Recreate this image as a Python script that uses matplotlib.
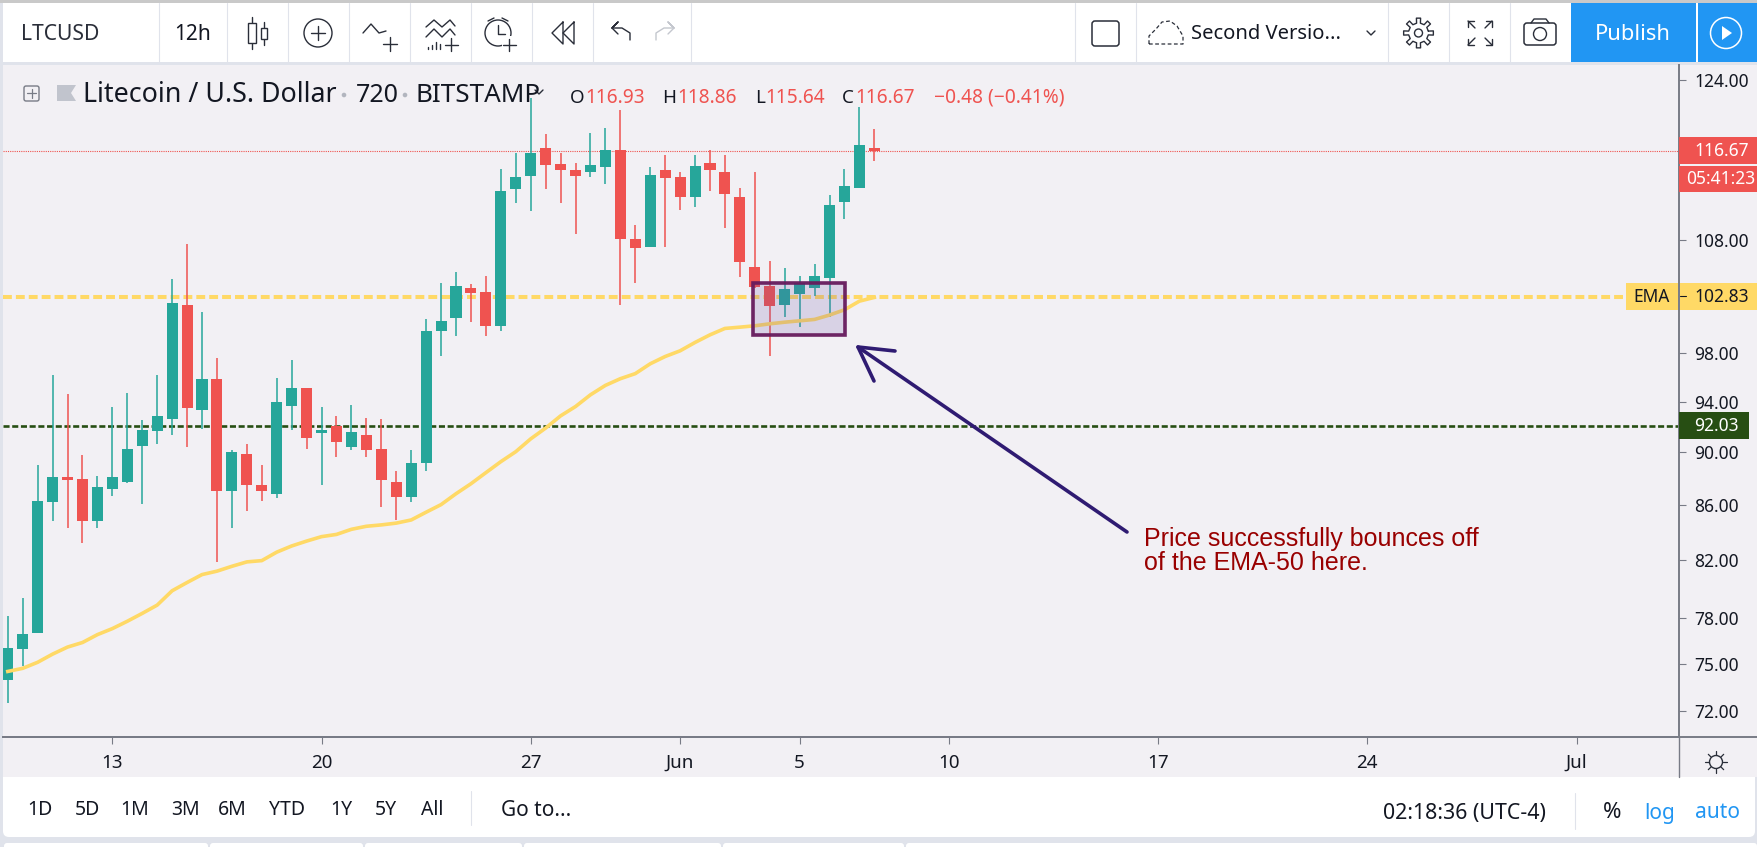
import math
import matplotlib
matplotlib.use("Agg")
import matplotlib.pyplot as plt
from matplotlib.patches import Rectangle, Circle, FancyBboxPatch
from matplotlib.ticker import NullLocator

# candle values (12h bars, starting around 9 May)
opens = [73.96, 75.97, 77.00, 86.23, 88.07, 87.97, 84.85, 87.17, 87.75, 90.52,
         91.64, 92.60, 102.16, 93.37, 95.87, 87.07, 89.88, 87.49, 86.81, 93.62,
         95.13, 91.54, 92.08, 90.38, 91.33, 90.25, 87.72, 86.58, 89.18, 99.86,
         100.99, 103.68, 103.30, 100.29, 112.90, 114.13, 116.90, 115.35, 114.73, 114.60,
         115.06, 116.70, 108.12, 107.43, 114.73, 114.10, 112.16, 115.48, 114.56, 112.13,
         105.54, 103.86, 102.17, 103.15, 103.71, 104.56, 111.67, 113.03, 116.93]
highs = [78.13, 79.40, 89.01, 96.16, 94.63, 89.78, 88.20, 93.58, 94.74, 92.50,
         96.16, 104.51, 107.68, 101.58, 97.60, 90.15, 90.62, 89.01, 95.90, 97.47,
         95.13, 93.58, 92.85, 93.72, 92.71, 92.60, 88.57, 90.15, 100.95, 104.12,
         105.11, 104.01, 104.71, 114.89, 116.45, 122.05, 118.33, 116.45, 115.48, 118.50,
         118.95, 120.80, 109.46, 115.02, 116.28, 114.56, 116.28, 116.74, 116.28, 113.03,
         114.56, 106.12, 105.43, 104.71, 105.82, 112.29, 114.89, 121.20, 118.86]
lows = [72.53, 74.86, 77.00, 84.81, 84.28, 83.26, 84.35, 86.68, 87.62, 86.10,
        90.62, 91.33, 90.38, 91.85, 81.89, 84.35, 85.59, 86.32, 86.55, 91.74,
        90.25, 87.49, 89.65, 90.15, 89.65, 85.85, 84.91, 86.19, 88.57, 97.75,
        99.46, 100.67, 99.46, 99.86, 111.55, 110.78, 112.90, 111.55, 108.56, 114.10,
        113.37, 102.17, 104.11, 107.40, 107.40, 110.90, 111.20, 112.74, 109.14, 104.68,
        103.65, 97.80, 101.08, 100.26, 103.00, 101.08, 110.05, 113.03, 115.64]
closes = [76.02, 76.97, 86.32, 88.07, 87.87, 84.85, 87.36, 88.07, 90.25, 91.74,
          92.85, 102.31, 93.51, 95.87, 87.07, 90.02, 87.52, 87.07, 93.97, 95.13,
          91.13, 91.74, 90.79, 91.60, 90.15, 87.87, 86.58, 89.14, 99.86, 100.79,
          103.83, 103.18, 100.29, 112.74, 114.10, 116.45, 115.22, 114.76, 114.13, 115.22,
          116.70, 108.15, 107.28, 114.26, 113.97, 112.16, 115.19, 114.73, 112.45, 106.00,
          103.74, 102.06, 103.56, 104.13, 104.71, 111.39, 113.20, 117.30, 116.67]
ema50 = [74.52, 74.72, 75.11, 75.64, 76.10, 76.40, 76.92, 77.32, 77.81, 78.34,
         78.90, 79.88, 80.45, 81.00, 81.24, 81.58, 81.89, 81.98, 82.58, 83.02,
         83.37, 83.69, 83.85, 84.22, 84.44, 84.54, 84.67, 84.90, 85.47, 86.03,
         86.84, 87.59, 88.43, 89.27, 90.04, 91.04, 91.89, 92.86, 93.61, 94.56,
         95.33, 95.88, 96.30, 97.12, 97.73, 98.21, 98.92, 99.57, 100.12, 100.23,
         100.35, 100.52, 100.66, 100.78, 100.90, 101.28, 101.74, 102.50, 102.83]

price_ticks = [124, 108, 98, 94, 90, 86, 82, 78, 75, 72]
date_ticks = [7, 21, 35, 45, 53, 63, 77, 91, 105]
date_labels = ["13", "20", "27", "Jun", "5", "10", "17", "24", "Jul"]

last_price = 116.67
ema_level = 102.83
support_level = 92.03
box_bars = [49.9, 56.06]
box_prices = [99.57, 104.15]

GREEN = "#26a69a"
RED = "#ef5350"
YELLOW = "#ffd966"
DARKGREEN = "#274e13"
BLUE = "#2196f3"
INK = "#131722"
BG = "#f2f0f4"
EDGE = "#e0e3eb"
ICON = "#2a2e39"

W, H = 1757, 847
LEFT, RIGHT, TOP, BOTTOM = 3, 1679, 65, 737

plt.rcParams["font.family"] = ["Noto Sans", "DejaVu Sans"]
fig = plt.figure(figsize=(W / 100, H / 100), dpi=100, facecolor=EDGE)


def px_axes(z):
    a = fig.add_axes([0, 0, 1, 1], zorder=z)
    a.set_xlim(0, W)
    a.set_ylim(H, 0)
    a.axis("off")
    return a


def rect(a, x0, y0, x1, y1, color, **kw):
    a.add_patch(Rectangle((x0, y0), x1 - x0, y1 - y0, facecolor=color, edgecolor="none", **kw))


def stroke(a, xs, ys, color=ICON, lw=1.0, **kw):
    a.plot(xs, ys, color=color, lw=lw, solid_capstyle="round", **kw)


# chrome behind the chart
back = px_axes(0)
rect(back, 0, 0, W, 3, "#c9c9c9")
rect(back, 3, 3, W, 62, "white")
back.add_patch(FancyBboxPatch((3, 760), W - 5, 77, boxstyle="round,pad=0,rounding_size=6", fc="white", ec="none"))
rect(back, 3, TOP, W, 777, BG)
for x0, x1 in [(4, 208), (210, 363), (365, 522), (524, 721), (723, 904), (906, W)]:
    back.add_patch(FancyBboxPatch((x0, 843), x1 - x0, 20, boxstyle="round,pad=0,rounding_size=3", fc="white", ec="none"))
for x in [159, 227, 288, 349, 410, 471, 532, 593, 691, 1075, 1136, 1388, 1449, 1510]:
    stroke(back, [x, x], [3, 62], EDGE, 0.8)
stroke(back, [471, 471], [791, 825], EDGE, 0.8)
stroke(back, [1575, 1575], [793, 829], EDGE, 0.8)
rect(back, 1571, 3, 1696, 62, BLUE)
rect(back, 1698, 3, W, 62, BLUE)

# main chart
ax = fig.add_axes([LEFT / W, 1 - BOTTOM / H, (RIGHT - LEFT) / W, (BOTTOM - TOP) / H], zorder=1)
ax.patch.set_alpha(0)
ax.set_yscale("log")
ax.set_xlim(-0.321, 111.86)
ax.set_ylim(70.43, 125.61)

for i in range(len(opens)):
    color = GREEN if closes[i] >= opens[i] else RED
    ax.vlines(i, lows[i], highs[i], color=color, lw=1.1, zorder=3)
    bottom = min(opens[i], closes[i])
    top = max(opens[i], closes[i])
    ax.bar(i, top - bottom, 0.74, bottom=bottom, color=color, zorder=4, linewidth=0)

ax.plot(range(len(ema50)), ema50, color=YELLOW, lw=2.6, zorder=5)
ax.axhline(last_price, color=RED, lw=0.8, ls=(0, (1, 1)), zorder=2)
ax.axhline(ema_level, color=YELLOW, lw=2.9, ls=(0, (2.2, 1.0)), zorder=2, xmax=0.968)
ax.axhline(support_level, color=DARKGREEN, lw=1.9, ls=(0, (2.3, 1.0)), zorder=2)
ax.add_patch(Rectangle((box_bars[0], box_prices[0]), box_bars[1] - box_bars[0], box_prices[1] - box_prices[0],
                       facecolor=(0.40, 0.31, 0.65, 0.18), edgecolor=(0.40, 0.10, 0.36, 0.95), lw=2.6, zorder=6))

ax.yaxis.tick_right()
ax.set_yticks(price_ticks)
ax.set_yticklabels(["%.2f" % p for p in price_ticks])
ax.yaxis.set_minor_locator(NullLocator())
ax.set_xticks(date_ticks)
ax.set_xticklabels(date_labels)
ax.tick_params(axis="y", length=5, width=0.8, color="#787b86", labelsize=12.5, labelcolor=INK, pad=6)
ax.tick_params(axis="x", length=5, width=0.8, color="#787b86", labelsize=13.5, labelcolor=INK, pad=7)
for s in ["top", "left"]:
    ax.spines[s].set_visible(False)
for s in ["bottom", "right"]:
    ax.spines[s].set_color("#787b86")
    ax.spines[s].set_linewidth(1.4)

# everything drawn above the chart, in pixel positions
top = px_axes(2)
stroke(top, [RIGHT, RIGHT], [BOTTOM, 777], "#787b86", 1.0)
stroke(top, [LEFT, W], [BOTTOM, BOTTOM], "#787b86", 1.4)

# price scale labels
rect(top, 1679, 137, W, 164, RED)
rect(top, 1679, 166, W, 192, RED)
rect(top, 1626, 283, 1677.5, 310, YELLOW)
rect(top, 1679.5, 283, W, 310, YELLOW)
rect(top, 1679, 412.5, 1749, 439.5, DARKGREEN)
top.text(1694, 150.5, "%.2f" % last_price, color="white", fontsize=12.5, va="center")
top.text(1686, 179, "05:41:23", color="white", fontsize=12.5, va="center")
top.text(1652, 297, "EMA", color=INK, fontsize=12.5, va="center", ha="center")
top.text(1694, 296.5, "%.2f" % ema_level, color=INK, fontsize=12.5, va="center")
top.text(1694, 426, "%.2f" % support_level, color="white", fontsize=12.5, va="center", fontweight="bold")
stroke(top, [1680, 1686], [296.5, 296.5], INK, 0.8)

# trade note and arrow
top.text(1144, 551, "Price successfully bounces off\nof the EMA-50 here.", color="#990000",
         family="Liberation Sans", fontsize=18, va="center", linespacing=1.05)
stroke(top, [1127, 858], [532, 347], "#2f1b72", 2.6)
stroke(top, [895, 858, 874], [351, 347, 381], "#2f1b72", 2.6)

# legend row
top.text(83, 95, "Litecoin / U.S. Dollar", color=INK, fontsize=19.3, va="center")
top.text(356, 95, "720", color=INK, fontsize=18, va="center")
top.text(416, 95, "BITSTAMP", color=INK, fontsize=18.8, va="center")
for x in [344, 405]:
    top.add_patch(Circle((x, 95), 1.6, color="#b2b5be"))
for x, s in [(577, "O"), (669, "H"), (760, "L"), (848, "C")]:
    top.text(x, 98, s, color=INK, fontsize=13.5, va="center", ha="center")
for x, s in [(585, "116.93"), (677, "118.86"), (765, "115.64"), (855, "116.67")]:
    top.text(x, 98, s, color=RED, fontsize=13.7, va="center")
top.text(934, 98, "\u22120.48 (\u22120.41%)", color=RED, fontsize=13.8, va="center")
top.add_patch(FancyBboxPatch((24, 86), 15, 15, boxstyle="round,pad=0,rounding_size=2", fc="none", ec="#787b86", lw=1))
stroke(top, [27, 36], [93.5, 93.5], "#787b86", 0.9)
stroke(top, [31.5, 31.5], [89, 98], "#787b86", 0.9)
top.fill([57, 76, 71, 76, 57], [85, 85, 93, 101, 101], color="#c1c4cd", lw=0)
stroke(top, [535, 539, 543], [90, 94, 90], ICON, 1.0)

# top toolbar text
top.text(60, 34, "LTCUSD", color=ICON, fontsize=15.2, fontweight="bold", ha="center", va="center")
top.text(193, 34, "12h", color=INK, fontsize=15, ha="center", va="center")
top.text(1191, 34, "Second Versio...", color=INK, fontsize=14.5, va="center")
top.text(1633, 34, "Publish", color="white", fontsize=15.8, ha="center", va="center")

# toolbar icons
stroke(top, [252, 252], [17, 49], ICON, 1.0)
stroke(top, [264, 264], [22, 45], ICON, 1.0)
top.add_patch(Rectangle((248, 23), 8, 20, fc="white", ec=ICON, lw=1, zorder=3))
top.add_patch(Rectangle((261, 28), 6, 11, fc="white", ec=ICON, lw=1, zorder=3))
top.add_patch(Circle((318, 33), 14, fc="none", ec=ICON, lw=1))
stroke(top, [311, 325], [33, 33])
stroke(top, [318, 318], [26, 40])
stroke(top, [363, 371, 379, 386], [33, 24, 33, 31])
stroke(top, [383, 397], [44, 44])
stroke(top, [390, 390], [37, 51])
stroke(top, [426, 434, 442, 450, 455], [27, 20, 27, 20, 26])
stroke(top, [426, 434, 442, 450, 455], [37, 29, 37, 29, 35])
stroke(top, [445, 458], [45, 45])
stroke(top, [451, 451], [38, 51])
for x, h in [(428, 2), (432, 4), (436, 7), (440, 5)]:
    stroke(top, [x, x], [49 - h, 49])
top.add_patch(Circle((498, 33), 13, fc="none", ec=ICON, lw=1))
stroke(top, [498, 498, 505], [25, 34, 34])
stroke(top, [488, 494], [21, 18])
stroke(top, [508, 502], [21, 18])
rect(top, 502, 36, 516, 52, "white", zorder=3)
stroke(top, [503, 516], [45, 45], zorder=4)
stroke(top, [509, 509], [39, 51], zorder=4)
stroke(top, [563, 552, 563, 563], [22, 33, 44, 22])
stroke(top, [574, 563, 574, 574], [22, 33, 44, 22])
stroke(top, [612, 618, 612, 622, 630, 630], [28, 22, 28, 28, 33, 40])
stroke(top, [612, 618], [28, 34])
stroke(top, [674, 668, 674, 664, 656, 656], [28, 22, 28, 28, 33, 40], "#c4c7ce")
stroke(top, [674, 668], [28, 34], "#c4c7ce")
top.add_patch(FancyBboxPatch((1092, 21), 27, 25, boxstyle="round,pad=0,rounding_size=3", fc="none", ec=ICON, lw=1.1))
cloud_x = [1149, 1149, 1156, 1162, 1170, 1177, 1183, 1183, 1149]
cloud_y = [44, 36, 29, 22, 21, 26, 36, 44, 44]
stroke(top, cloud_x, cloud_y, ICON, 0.9, ls=(0, (3, 2)))
stroke(top, [1367, 1371, 1375], [31, 35, 31])

# cog outline
gear_x = []
gear_y = []
for k in range(8):
    for da, r in [(-11, 10), (-8, 15), (8, 15), (11, 10)]:
        a = math.radians(k * 45 + da)
        gear_x.append(1418.5 + r * math.cos(a))
        gear_y.append(33 + r * math.sin(a))
stroke(top, gear_x + gear_x[:1], gear_y + gear_y[:1], ICON, 1.0)
top.add_patch(Circle((1418.5, 33), 4, fc="none", ec=ICON, lw=1))

for sx, sy in [(-1, -1), (1, -1), (-1, 1), (1, 1)]:
    stroke(top, [1480 + 12 * sx, 1480 + 5 * sx], [33 + 12 * sy, 33 + 5 * sy])
    stroke(top, [1480 + 6 * sx, 1480 + 12 * sx, 1480 + 12 * sx], [33 + 12 * sy, 33 + 12 * sy, 33 + 6 * sy])
top.add_patch(FancyBboxPatch((1524, 23), 32, 22, boxstyle="round,pad=0,rounding_size=3", fc="none", ec=ICON, lw=1.1))
stroke(top, [1531, 1534, 1546, 1549], [23, 19, 19, 23])
top.add_patch(Circle((1540, 34), 6.5, fc="none", ec=ICON, lw=1))
top.add_patch(Circle((1726, 33), 15.5, fc="none", ec="white", lw=1.1))
top.fill([1722, 1722, 1732], [26, 40, 33], color="white", lw=0)

# date range bar
for x, s in [(40, "1D"), (87, "5D"), (135, "1M"), (185, "3M"), (232, "6M"), (287, "YTD"), (341, "1Y"), (386, "5Y"), (432, "All")]:
    top.text(x, 810, s, color=INK, fontsize=14, ha="center", va="center")
top.text(536, 810, "Go to...", color=INK, fontsize=15, ha="center", va="center")
top.text(1383, 813, "02:18:36 (UTC-4)", color=INK, fontsize=15.4, va="center")
top.text(1612, 812, "%", color=INK, fontsize=16, ha="center", va="center")
top.text(1660, 813, "log", color=BLUE, fontsize=15, ha="center", va="center")
top.text(1718, 813, "auto", color=BLUE, fontsize=15, ha="center", va="center")
top.add_patch(Circle((1716, 762), 6.5, fc="none", ec=ICON, lw=1))
for dx, dy in [(0, -9), (0, 9), (-9, 0), (9, 0), (6.4, 6.4), (-6.4, 6.4), (6.4, -6.4), (-6.4, -6.4)]:
    stroke(top, [1716 + dx * 0.8, 1716 + dx * 1.2], [762 + dy * 0.8, 762 + dy * 1.2], ICON, 0.9)

fig.savefig("out.png", dpi=100, facecolor=fig.get_facecolor())
